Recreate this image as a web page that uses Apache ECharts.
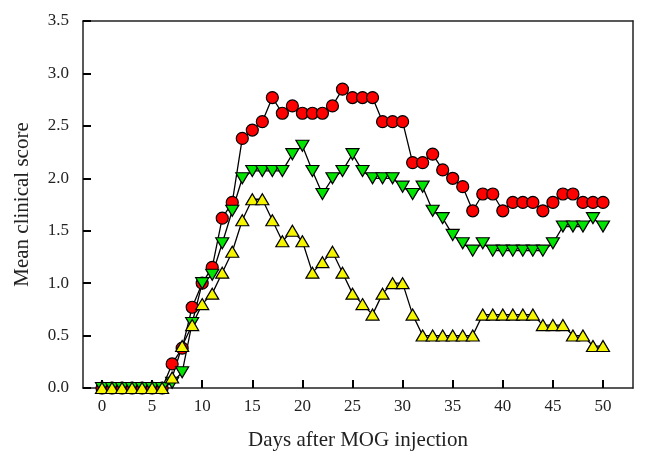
<!DOCTYPE html>
<html><head><meta charset="utf-8">
<script src="https://cdn.jsdelivr.net/npm/echarts@6/dist/echarts.min.js"></script>
<style>html,body{margin:0;padding:0;background:#fff}#c{width:648px;height:465px}</style>
</head><body><div id="c"></div>
<script>
const days = Array.from({length: 51}, (_, i) => i);
const redCircle = [0,0,0,0,0,0,0,0.23,0.38,0.77,1.0,1.15,1.62,1.77,2.38,2.46,2.54,2.77,2.62,2.69,2.62,2.62,2.62,2.69,2.85,2.77,2.77,2.77,2.54,2.54,2.54,2.15,2.15,2.23,2.08,2.0,1.92,1.69,1.85,1.85,1.69,1.77,1.77,1.77,1.69,1.77,1.85,1.85,1.77,1.77,1.77];
const greenDown = [0,0,0,0,0,0,0,0.05,0.15,0.62,1.0,1.08,1.38,1.69,2.0,2.07,2.07,2.07,2.07,2.23,2.31,2.07,1.85,2.0,2.07,2.23,2.07,2.0,2.0,2.0,1.92,1.85,1.92,1.69,1.62,1.46,1.38,1.31,1.38,1.31,1.31,1.31,1.31,1.31,1.31,1.38,1.54,1.54,1.54,1.62,1.54];
const yellowUp = [0,0,0,0,0,0,0,0.1,0.4,0.6,0.8,0.9,1.1,1.3,1.6,1.8,1.8,1.6,1.4,1.5,1.4,1.1,1.2,1.3,1.1,0.9,0.8,0.7,0.9,1.0,1.0,0.7,0.5,0.5,0.5,0.5,0.5,0.5,0.7,0.7,0.7,0.7,0.7,0.7,0.6,0.6,0.6,0.5,0.5,0.4,0.4];

const font = 'Liberation Serif';
const axisCol = '#222';
function mk(vals, symbol, color, size, rot) {
  return {
    type: 'line',
    xAxisIndex: 0, yAxisIndex: 0,
    data: days.map((d, i) => [d, vals[i]]),
    symbol: symbol, symbolSize: size, symbolRotate: rot || 0,
    showAllSymbol: true,
    lineStyle: {color: '#000', width: 1.3},
    itemStyle: {color: color, borderColor: '#000', borderWidth: 1.2}
  };
}
const lineOnly = () => ({show: true, onZero: false, lineStyle: {color: axisCol, width: 1.5}});
const chart = echarts.init(document.getElementById('c'), null, {renderer: 'canvas'});
chart.setOption({
  animation: false,
  grid: [
    {left: 102, right: 45, top: 21, bottom: 77},
    {left: 83, right: 15, top: 21, bottom: 77},
    {left: 20, right: 565, top: 21, bottom: 77},
    {left: 102, right: 45, top: 388, bottom: 20}
  ],
  xAxis: [{
    gridIndex: 0, type: 'value', min: 0, max: 50, interval: 5, position: 'bottom',
    axisLine: {show: false, onZero: false},
    axisTick: {show: true, inside: true, length: 8, lineStyle: {color: '#111', width: 1.5}},
    axisLabel: {show: true, fontFamily: font, fontSize: 17, color: '#222', margin: 10},
    splitLine: {show: false}
  }, {
    gridIndex: 1, type: 'value', min: 0, max: 1, position: 'bottom',
    name: 'Days after MOG injection', nameLocation: 'middle', nameGap: 42,
    nameTextStyle: {fontFamily: font, fontSize: 21, color: '#222'},
    axisLine: lineOnly(), axisTick: {show: false}, axisLabel: {show: false}, splitLine: {show: false}
  }, {
    gridIndex: 1, type: 'value', min: 0, max: 1, position: 'top',
    axisLine: lineOnly(), axisTick: {show: false}, axisLabel: {show: false}, splitLine: {show: false}
  }, {
    gridIndex: 2, type: 'value', min: 0, max: 1, show: false
  }, {
    gridIndex: 3, type: 'value', min: 0, max: 50, interval: 5, position: 'top',
    axisLine: {show: false, onZero: false},
    axisTick: {show: true, inside: false, length: 8, lineStyle: {color: '#000', width: 2}},
    axisLabel: {show: false}, splitLine: {show: false}
  }],
  yAxis: [{
    gridIndex: 0, type: 'value', min: 0, max: 3.5, interval: 0.5, position: 'left',
    axisLine: {show: false, onZero: false},
    axisTick: {show: false}, axisLabel: {show: false}, splitLine: {show: false}
  }, {
    gridIndex: 1, type: 'value', min: 0, max: 3.5, interval: 0.5, position: 'left',
    name: 'Mean clinical score', nameLocation: 'middle', nameGap: 50,
    nameTextStyle: {fontFamily: font, fontSize: 21, color: '#222'},
    axisLine: lineOnly(),
    axisTick: {show: true, inside: true, length: 8, lineStyle: {color: '#111', width: 1.5}},
    axisLabel: {show: true, fontFamily: font, fontSize: 17, color: '#222', margin: 14, formatter: v => v.toFixed(1)},
    splitLine: {show: false}
  }, {
    gridIndex: 1, type: 'value', min: 0, max: 3.5, position: 'right',
    axisLine: lineOnly(), axisTick: {show: false}, axisLabel: {show: false}, splitLine: {show: false}
  }, {
    gridIndex: 2, type: 'value', min: 0, max: 3.5, interval: 0.5, position: 'right',
    axisLine: {show: false, onZero: false},
    axisTick: {show: true, inside: false, length: 8, lineStyle: {color: '#000', width: 2}},
    axisLabel: {show: false}, splitLine: {show: false}
  }, {
    gridIndex: 3, type: 'value', min: 0, max: 1, show: false
  }],
  series: [
    mk(redCircle, 'circle', '#ff0000', 12),
    mk(greenDown, 'triangle', '#00e600', [13, 11], 180),
    mk(yellowUp, 'triangle', '#f5f500', [13, 11])
  ]
});
</script></body></html>
